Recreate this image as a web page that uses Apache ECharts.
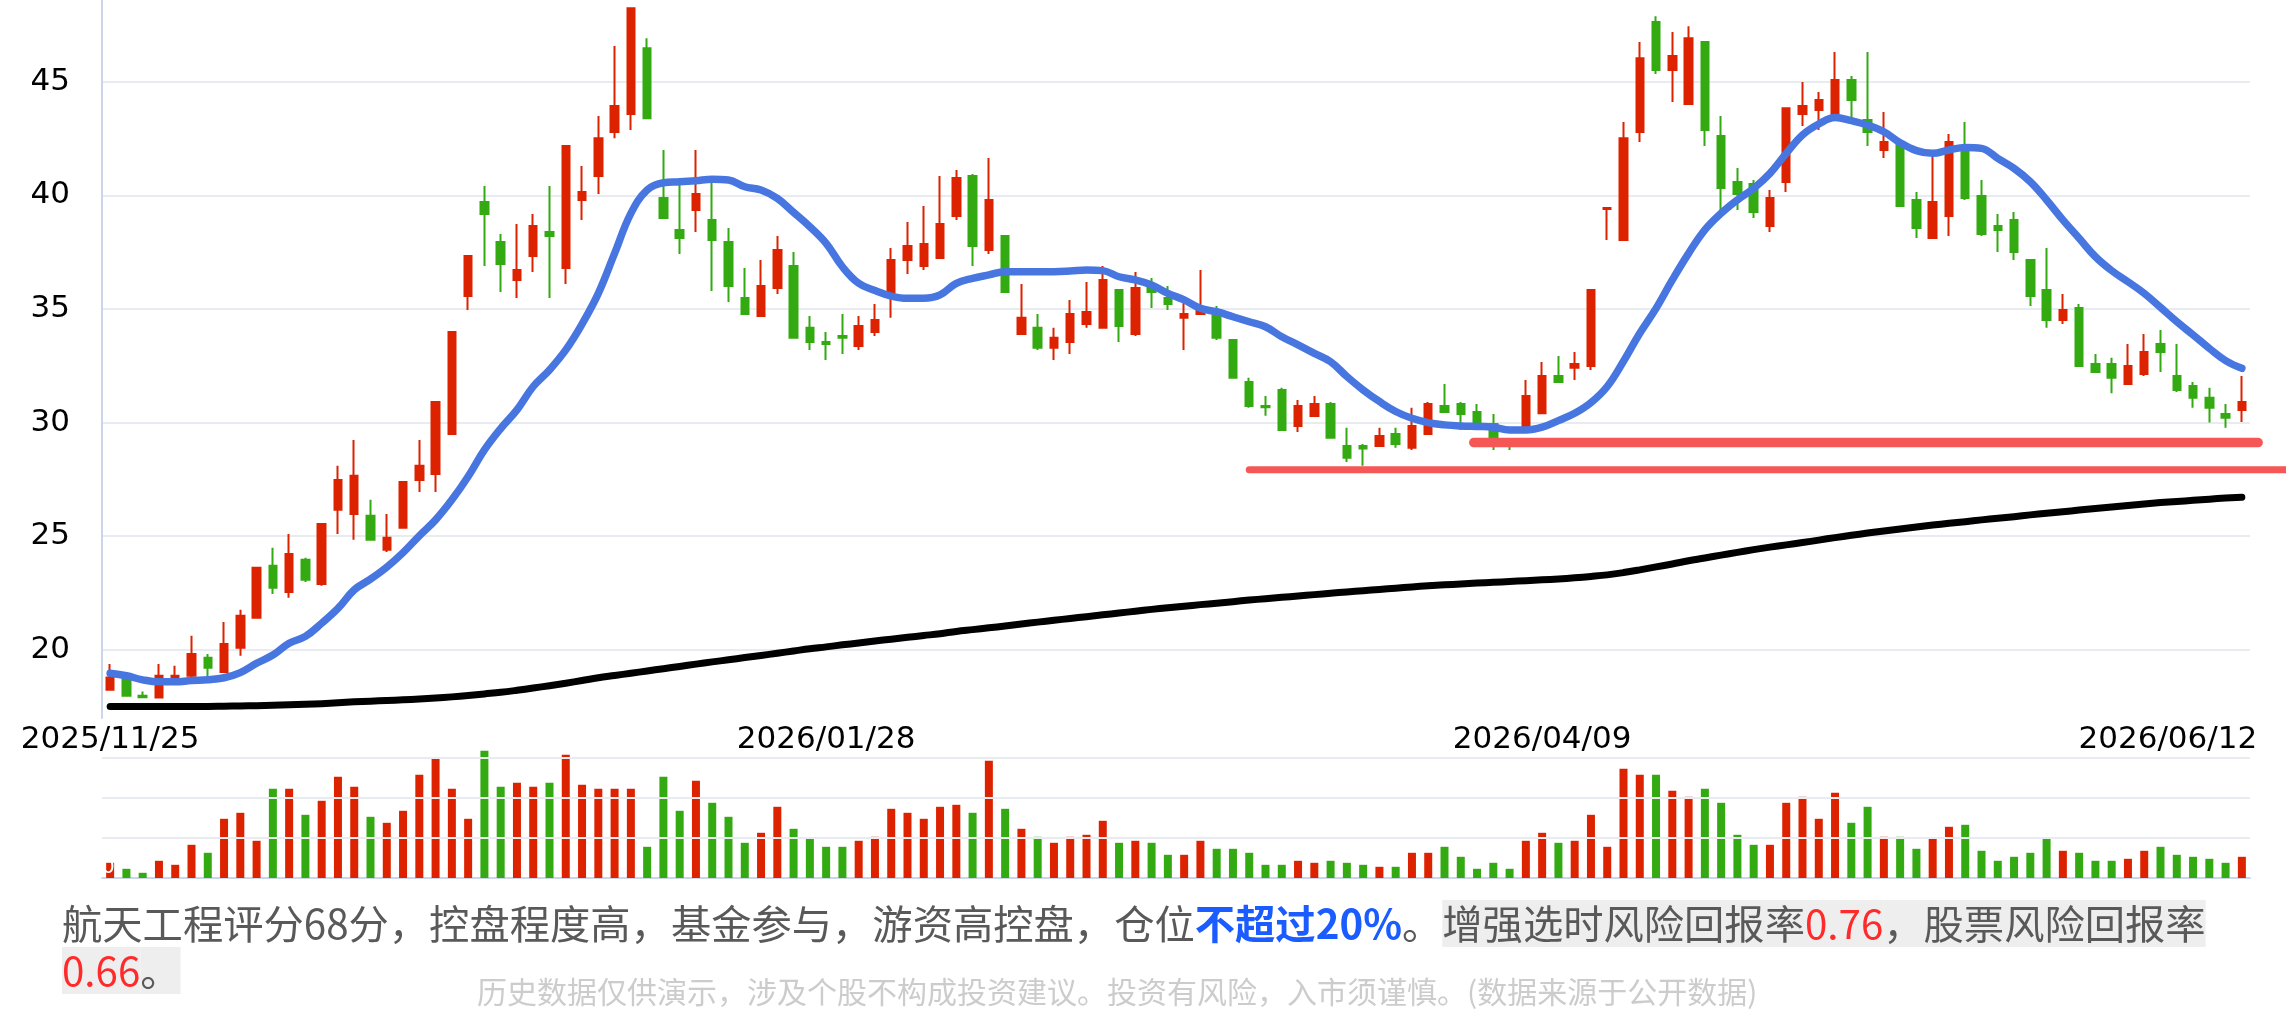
<!DOCTYPE html>
<html><head><meta charset="utf-8">
<script src="https://cdn.jsdelivr.net/npm/echarts@6/dist/echarts.min.js"></script>
<style>html,body{margin:0;padding:0;background:#fff}#c{width:2286px;height:1018px}</style>
</head><body><div id="c"></div>
<script>
const dates = [
'2025/11/25','2025/11/26','2025/11/27','2025/11/28',
'2025/12/01','2025/12/02','2025/12/03','2025/12/04','2025/12/05','2025/12/08','2025/12/09','2025/12/10','2025/12/11','2025/12/12',
'2025/12/15','2025/12/16','2025/12/17','2025/12/18','2025/12/19','2025/12/22','2025/12/23','2025/12/24','2025/12/25','2025/12/26',
'2025/12/29','2025/12/30','2025/12/31',
'2026/01/05','2026/01/06','2026/01/07','2026/01/08','2026/01/09','2026/01/12','2026/01/13','2026/01/14','2026/01/15','2026/01/16',
'2026/01/19','2026/01/20','2026/01/21','2026/01/22','2026/01/23','2026/01/26','2026/01/27','2026/01/28','2026/01/29','2026/01/30',
'2026/02/02','2026/02/03','2026/02/04','2026/02/05','2026/02/06','2026/02/09','2026/02/10','2026/02/11','2026/02/12','2026/02/13',
'2026/02/24','2026/02/25','2026/02/26','2026/02/27',
'2026/03/02','2026/03/03','2026/03/04','2026/03/05','2026/03/06','2026/03/09','2026/03/10','2026/03/11','2026/03/12','2026/03/13',
'2026/03/16','2026/03/17','2026/03/18','2026/03/19','2026/03/20','2026/03/23','2026/03/24','2026/03/25','2026/03/26','2026/03/27',
'2026/03/30','2026/03/31',
'2026/04/01','2026/04/02','2026/04/03','2026/04/07','2026/04/08','2026/04/09','2026/04/10','2026/04/13','2026/04/14','2026/04/15',
'2026/04/16','2026/04/17','2026/04/20','2026/04/21','2026/04/22','2026/04/23','2026/04/24','2026/04/27','2026/04/28','2026/04/29','2026/04/30',
'2026/05/06','2026/05/07','2026/05/08','2026/05/11','2026/05/12','2026/05/13','2026/05/14','2026/05/15','2026/05/18','2026/05/19',
'2026/05/20','2026/05/21','2026/05/22','2026/05/25','2026/05/26','2026/05/27','2026/05/28','2026/05/29',
'2026/06/01','2026/06/02','2026/06/03','2026/06/04','2026/06/05','2026/06/08','2026/06/09','2026/06/10','2026/06/11','2026/06/12'
];
const opens = [
18.24,18.68,17.98,17.90,18.75,18.86,19.65,19.03,20.09,21.41,
23.70,22.55,23.96,22.90,26.16,25.98,25.90,24.40,25.37,27.48,
27.74,29.50,35.57,39.71,37.95,36.28,37.33,38.39,36.81,39.80,
40.85,42.79,43.58,46.48,39.89,38.48,39.36,38.92,37.95,35.49,
34.69,35.93,36.89,34.17,33.55,33.81,33.37,33.99,35.66,37.16,
36.89,37.25,39.09,40.85,37.60,38.21,33.90,34.17,33.29,33.55,
34.34,34.17,35.84,33.90,35.93,35.49,34.61,34.78,34.96,33.64,
31.79,30.73,31.44,29.85,30.29,30.82,28.97,28.97,28.97,29.50,
28.89,29.50,30.73,30.82,30.47,29.94,29.15,29.59,30.41,32.05,
32.41,32.49,39.40,38.04,42.79,47.63,45.52,44.02,46.75,42.61,
40.59,40.50,38.65,40.59,43.58,43.76,43.58,45.08,43.32,42.00,
42.26,39.80,38.13,39.09,42.08,39.97,38.65,38.92,37.16,35.84,
34.52,35.05,32.58,32.58,31.70,32.14,33.46,32.05,31.61,31.09,
30.38,30.56];
const closes = [
18.78,17.98,17.91,18.86,18.86,19.82,19.21,20.26,21.50,23.61,
22.73,24.22,23.08,25.54,27.48,27.66,24.84,24.93,27.39,28.10,
30.91,33.99,37.33,39.18,36.98,36.72,38.65,38.21,42.17,40.15,
42.52,43.93,48.24,43.40,39.01,38.13,40.06,38.04,36.01,34.78,
36.01,37.60,33.73,33.55,33.46,33.73,34.25,34.52,37.16,37.77,
37.86,38.74,40.77,37.77,39.80,35.75,34.61,33.29,33.73,34.78,
34.87,36.28,34.25,35.93,35.75,35.22,34.78,35.05,33.73,31.97,
30.73,30.68,29.68,30.73,30.82,29.33,28.45,28.86,29.41,29.06,
29.85,30.82,30.47,30.38,29.77,29.33,29.05,31.17,32.05,31.79,
32.58,35.84,39.45,42.52,46.04,45.52,46.13,46.92,42.88,40.33,
40.06,39.27,39.89,43.84,43.93,44.20,45.08,44.20,42.79,42.35,
39.53,38.57,39.71,42.35,39.89,38.30,38.48,37.51,35.57,34.52,
34.96,32.49,32.23,31.97,32.49,33.11,33.11,31.44,31.09,30.65,
30.21,30.91];
const lows = [
18.24,17.98,17.90,17.90,18.61,18.61,18.80,19.03,19.74,21.41,
22.46,22.29,22.99,22.82,25.10,24.84,24.84,24.31,25.37,26.95,
26.95,29.50,34.96,36.89,35.75,35.49,36.63,35.49,36.10,38.92,
40.06,42.52,42.88,43.40,39.01,37.42,38.39,35.79,35.31,34.78,
34.69,35.66,33.73,33.20,32.76,33.02,33.20,33.81,34.61,36.54,
36.72,37.25,38.92,36.89,37.42,35.75,33.90,33.20,32.76,33.02,
34.17,34.17,33.55,33.81,35.05,34.96,33.20,34.78,33.64,31.97,
30.65,30.30,29.68,29.59,30.29,29.33,28.27,28.10,28.97,28.89,
28.80,29.50,30.47,29.68,29.68,28.80,28.80,29.59,30.41,31.79,
31.88,32.32,38.04,38.04,42.35,45.34,44.11,44.02,42.17,39.36,
39.36,39.01,38.39,40.15,43.05,42.88,43.40,43.14,42.17,41.65,
39.53,38.13,38.13,38.21,39.80,38.21,37.51,37.16,35.13,34.17,
34.34,32.49,32.23,31.29,31.70,32.05,32.23,31.35,30.65,30.00,
29.77,30.03];
const highs = [
19.38,19.03,18.17,19.38,19.30,20.62,19.82,21.23,21.76,23.61,
24.49,25.10,24.05,25.54,28.10,29.24,26.60,25.98,27.39,29.24,
30.91,33.99,37.33,40.41,38.30,38.74,39.18,40.41,42.17,41.29,
43.49,46.57,48.24,46.92,42.00,40.59,42.00,40.59,38.57,36.81,
37.16,38.21,37.51,34.69,33.99,34.78,34.69,35.22,37.69,38.83,
39.53,40.85,41.12,40.94,41.65,38.21,36.10,34.78,34.17,35.40,
36.19,36.89,35.84,36.63,36.37,36.01,35.57,36.72,35.13,33.64,
31.97,31.17,31.53,31.00,31.17,30.91,29.77,29.06,29.77,29.77,
30.65,30.91,31.70,30.91,30.82,30.38,29.30,31.88,32.67,32.93,
33.11,35.84,39.45,43.23,46.75,47.89,47.19,47.45,46.75,43.49,
41.21,40.68,40.24,43.84,44.99,44.55,46.31,45.25,46.31,43.67,
42.26,40.15,41.73,42.70,43.23,40.68,39.18,39.27,37.16,37.69,
35.66,35.22,33.02,32.85,33.46,33.90,34.08,33.46,31.79,31.53,
30.82,32.05];
const volumes = [
0.38,0.23,0.13,0.43,0.33,0.83,0.63,1.48,1.63,0.93,
2.23,2.23,1.58,1.93,2.53,2.28,1.53,1.38,1.68,2.58,
2.98,2.23,1.48,3.18,2.28,2.38,2.28,2.38,3.08,2.33,
2.23,2.23,2.23,0.78,2.53,1.68,2.43,1.88,1.53,0.88,
1.13,1.78,1.23,0.98,0.78,0.78,0.93,1.03,1.73,1.63,
1.48,1.78,1.83,1.63,2.93,1.73,1.23,1.03,0.88,1.03,
1.08,1.43,0.88,0.93,0.88,0.58,0.58,0.93,0.73,0.73,
0.63,0.33,0.33,0.43,0.38,0.43,0.38,0.33,0.28,0.28,
0.63,0.63,0.78,0.53,0.23,0.38,0.23,0.93,1.13,0.88,
0.93,1.58,0.78,2.73,2.58,2.58,2.18,2.03,2.23,1.88,
1.08,0.83,0.83,1.88,2.03,1.48,2.13,1.38,1.78,1.03,
1.03,0.73,0.98,1.28,1.33,0.68,0.43,0.53,0.63,0.98,
0.68,0.63,0.43,0.43,0.48,0.68,0.78,0.58,0.53,0.48,
0.38,0.53];
const maShort = [
18.97,18.86,18.68,18.59,18.59,18.65,18.68,18.77,19.00,19.41,
19.77,20.29,20.59,21.17,21.82,22.64,23.11,23.64,24.28,25.02,
25.72,26.60,27.63,28.80,29.74,30.56,31.59,32.32,33.20,34.34,
35.69,37.45,39.21,40.24,40.56,40.60,40.65,40.71,40.68,40.38,
40.24,39.87,39.25,38.62,37.89,36.86,36.13,35.81,35.57,35.47,
35.47,35.62,36.13,36.35,36.50,36.64,36.64,36.64,36.64,36.67,
36.72,36.69,36.42,36.28,36.06,35.69,35.40,35.03,34.88,34.66,
34.44,34.22,33.78,33.42,33.05,32.68,32.03,31.44,30.93,30.49,
30.19,30.00,29.90,29.85,29.83,29.80,29.68,29.68,29.80,30.09,
30.41,30.88,31.59,32.70,33.93,35.03,36.28,37.45,38.48,39.21,
39.80,40.31,40.97,41.85,42.66,43.14,43.43,43.29,43.10,42.80,
42.32,41.97,41.85,42.00,42.11,42.07,41.63,41.19,40.60,39.80,
38.92,38.11,37.30,36.69,36.20,35.69,35.07,34.44,33.86,33.27,
32.73,32.39];
const maLong = [
17.51,17.51,17.51,17.51,17.51,17.51,17.51,17.52,17.53,17.54,
17.56,17.58,17.60,17.63,17.67,17.71,17.74,17.77,17.80,17.84,
17.88,17.93,17.99,18.06,18.13,18.22,18.32,18.42,18.53,18.65,
18.77,18.87,18.97,19.07,19.17,19.27,19.37,19.47,19.56,19.66,
19.75,19.85,19.95,20.05,20.13,20.22,20.30,20.39,20.47,20.55,
20.63,20.71,20.81,20.89,20.97,21.05,21.14,21.22,21.30,21.38,
21.46,21.54,21.62,21.70,21.78,21.85,21.92,21.99,22.05,22.12,
22.19,22.25,22.31,22.37,22.43,22.49,22.55,22.60,22.66,22.71,
22.77,22.82,22.86,22.90,22.94,22.97,23.01,23.04,23.08,23.12,
23.17,23.23,23.30,23.40,23.52,23.65,23.78,23.92,24.04,24.17,
24.29,24.41,24.52,24.62,24.72,24.83,24.94,25.04,25.14,25.23,
25.32,25.41,25.49,25.57,25.64,25.72,25.79,25.86,25.94,26.01,
26.08,26.15,26.22,26.29,26.35,26.42,26.48,26.53,26.58,26.63,
26.68,26.72];
const labelIndices = [0, 44, 88, 131];
const supportLevels = [27.93, 29.12];
const supportFrom = [70, 83.8];
const supportTo = [134, 132];

const UP = '#dd2200', DOWN = '#33aa11';
const AXISFONT = 'DejaVu Sans';
const CJK = 'Noto Sans CJK SC';
const lastIdx = dates.length - 1;

// layout of the plot area
const W = 2286, PLOT_LEFT = 102, PLOT_RIGHT = 36;
const band = (W - PLOT_LEFT - PLOT_RIGHT) / dates.length;
// an overlay grid that reaches the right edge of the canvas, with an index scale identical to the category axis
const overlayMax = -0.5 + (W - PLOT_LEFT) / band;

const chart = echarts.init(document.getElementById('c'), null, {renderer: 'canvas'});
const candleData = dates.map((d, i) => [opens[i], closes[i], lows[i], highs[i]]);
const volData = volumes.map((v, i) => ({value: v, itemStyle: {color: closes[i] >= opens[i] ? UP : DOWN}}));
const gridLine = {lineStyle: {color: '#e8ecf1', width: 2}, showMinLine: false, showMaxLine: false};

const option = {
  animation: false,
  backgroundColor: '#fff',
  grid: [
    {left: PLOT_LEFT, right: PLOT_RIGHT, top: 0, height: 718},
    {left: PLOT_LEFT, right: PLOT_RIGHT, top: 750, height: 128},
    {left: PLOT_LEFT, right: 0, top: 0, height: 718}
  ],
  xAxis: [
    {type: 'category', gridIndex: 0, data: dates, boundaryGap: true,
     axisLine: {show: false}, axisTick: {show: false}, splitLine: {show: false},
     axisLabel: {
       interval: (i) => labelIndices.includes(i),
       formatter: (v, i) => i === lastIdx ? '{last|' + v + '}' : v,
       fontSize: 31, fontFamily: AXISFONT, color: '#000', margin: 6,
       rich: {last: {fontSize: 31, fontFamily: AXISFONT, color: '#000', padding: [0, 148, 0, 0]}}
     }},
    {type: 'category', gridIndex: 1, data: dates, boundaryGap: true,
     axisLine: {show: true, lineStyle: {color: '#ccd6eb', width: 2}},
     axisTick: {show: false}, axisLabel: {show: false}, splitLine: {show: false}},
    {type: 'value', gridIndex: 2, min: -0.5, max: overlayMax, show: false}
  ],
  yAxis: [
    {type: 'value', gridIndex: 0, min: 17, max: 48.6, scale: true,
     axisLine: {show: true, lineStyle: {color: '#ccd6eb', width: 2}},
     axisTick: {show: false},
     axisLabel: {fontSize: 31, fontFamily: AXISFONT, color: '#000', margin: 32, showMinLabel: false, showMaxLabel: false},
     splitLine: gridLine},
    {type: 'value', gridIndex: 1, min: 0, max: 3.2, interval: 1, z: 5,
     axisLine: {show: false}, axisTick: {show: false},
     axisLabel: {inside: true, margin: 0, color: '#fff', fontSize: 20, fontFamily: AXISFONT, verticalAlign: 'bottom',
                 formatter: (v) => v === 0 ? '0' : ''},
     splitLine: gridLine},
    {type: 'value', gridIndex: 2, min: 17, max: 48.6, show: false}
  ],
  series: [
    {type: 'candlestick', xAxisIndex: 0, yAxisIndex: 0, data: candleData, barWidth: 8, z: 2,
     itemStyle: {color: UP, color0: DOWN, borderColor: UP, borderColor0: DOWN, borderWidth: 2}},
    {type: 'line', xAxisIndex: 0, yAxisIndex: 0, data: maShort, smooth: 0.4, symbol: 'none', z: 3,
     lineStyle: {color: '#4876e0', width: 7.5, cap: 'round', join: 'round'}},
    {type: 'line', xAxisIndex: 0, yAxisIndex: 0, data: maLong, smooth: 0.4, symbol: 'none', z: 3,
     lineStyle: {color: '#000', width: 7, cap: 'round', join: 'round'}},
    {type: 'line', xAxisIndex: 2, yAxisIndex: 2, clip: false, symbol: 'none', z: 4,
     data: [[supportFrom[0], supportLevels[0]], [Math.min(supportTo[0], overlayMax), supportLevels[0]]],
     lineStyle: {color: '#f55656', width: 7, cap: 'round'}},
    {type: 'line', xAxisIndex: 2, yAxisIndex: 2, clip: false, symbol: 'none', z: 4,
     data: [[supportFrom[1], supportLevels[1]], [supportTo[1], supportLevels[1]]],
     lineStyle: {color: '#f55656', width: 9.5, cap: 'round'}},
    {type: 'bar', xAxisIndex: 1, yAxisIndex: 1, data: volData, barWidth: 8, z: 2}
  ],
  graphic: [
    {type: 'text', left: 62, top: 900, z: 10,
     style: {
       text: '航天工程评分68分，控盘程度高，基金参与，游资高控盘，仓位{b|不超过20%}。{g|增强选时风险回报率}{r|0.76}{g|，股票风险回报率}\n{r|0.66}{g|。}',
       fontSize: 40.3, fontFamily: CJK, fill: '#595959', lineHeight: 47,
       rich: {
         b: {fill: '#1a5cff', fontWeight: 'bold', fontSize: 40.3, fontFamily: CJK, lineHeight: 47},
         g: {fill: '#595959', backgroundColor: '#eeeeee', fontSize: 40.3, fontFamily: CJK, lineHeight: 47, height: 47},
         r: {fill: '#ff2a2a', backgroundColor: '#eeeeee', fontSize: 40.3, fontFamily: CJK, lineHeight: 47, height: 47}
       }
     }},
    {type: 'text', left: 477, top: 977, z: 10,
     style: {text: '历史数据仅供演示，涉及个股不构成投资建议。投资有风险，入市须谨慎。(数据来源于公开数据)',
             fontSize: 30, fontFamily: CJK, fill: '#cccccc'}}
  ]
};
chart.setOption(option);
</script></body></html>
